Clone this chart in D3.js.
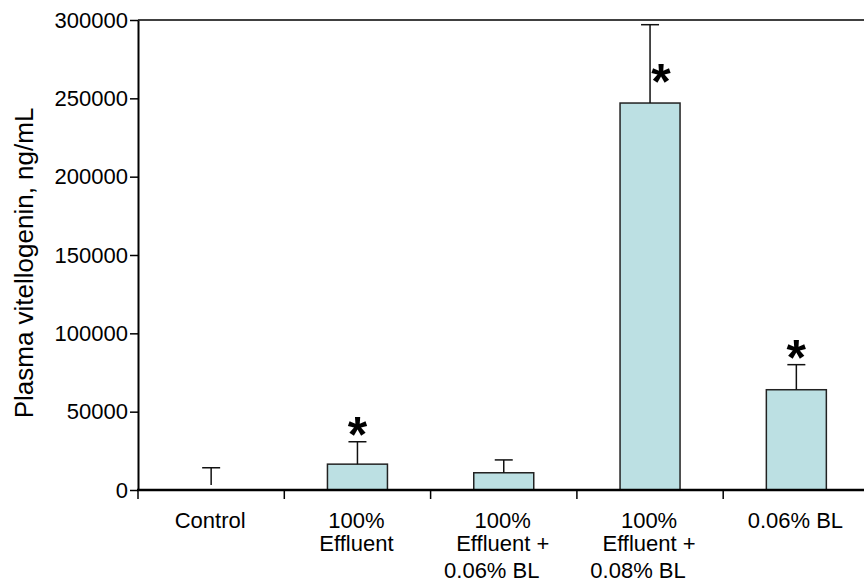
<!DOCTYPE html>
<html>
<head>
<meta charset="utf-8">
<script src="https://cdn.jsdelivr.net/npm/d3@7"></script>
<style>
  body { margin: 0; background: #fff; }
  svg { display: block; font-family: "Liberation Sans", Arial, sans-serif; }
</style>
</head>
<body>
<div id="chart"></div>
<script>
// Data
const categories = ["Control", "100% Effluent", "100% Effluent + 0.06% BL", "100% Effluent + 0.08% BL", "0.06% BL"];
const labelLines = [
  ["Control"],
  ["100%", "Effluent"],
  ["100%", "Effluent +", "0.06% BL"],
  ["100%", "Effluent +", "0.08% BL"],
  ["0.06% BL"]
];
const means = [0, 16500, 11000, 247000, 64000];
const sems = [14200, 14300, 8200, 50000, 16000];
const significant = [false, true, false, true, true];
const yTicks = [0, 50000, 100000, 150000, 200000, 250000, 300000];

// Layout
const W = 864, H = 588;
var margin = {top: 20, left: 138, bottom: 490};
const bandW = 146.3;

let svg = d3.select("#chart")
  .append("svg")
    .attr("width", W)
    .attr("height", H);

let x = d3.scaleBand()
  .domain(categories)
  .range([margin.left, margin.left + bandW * categories.length])
  .padding(0);

let y = d3.scaleLinear()
  .domain([0, 300000])
  .range([margin.bottom, margin.top]);

const barW = 60;
const data = categories.map((c, i) => ({
  cat: c, mean: means[i], sem: sems[i], sig: significant[i], lines: labelLines[i]
}));

// top frame line
svg.append("line")
  .attr("x1", margin.left).attr("x2", W)
  .attr("y1", y(300000)).attr("y2", y(300000))
  .attr("stroke", "#000").attr("stroke-width", 1.5);

// bars
svg.selectAll("rect.bar")
  .data(data.filter(d => d.mean > 0))
  .enter()
  .append("rect")
    .attr("class", "bar")
    .attr("x", d => x(d.cat) + x.bandwidth() / 2 - barW / 2)
    .attr("y", d => y(d.mean))
    .attr("width", barW)
    .attr("height", d => y(0) - y(d.mean))
    .attr("fill", "#bce0e3")
    .attr("stroke", "#222")
    .attr("stroke-width", 1.5);

// error bars (upper only)
let err = svg.selectAll("g.err")
  .data(data)
  .enter()
  .append("g")
    .attr("class", "err")
    .attr("transform", d => "translate(" + (x(d.cat) + x.bandwidth() / 2) + ",0)");

err.append("line")
  .attr("x1", 0).attr("x2", 0)
  .attr("y1", d => Math.min(y(d.mean), y(0) - 5))
  .attr("y2", d => y(d.mean + d.sem))
  .attr("stroke", "#111").attr("stroke-width", 1.5);

err.append("line")
  .attr("x1", -9).attr("x2", 9)
  .attr("y1", d => y(d.mean + d.sem))
  .attr("y2", d => y(d.mean + d.sem))
  .attr("stroke", "#111").attr("stroke-width", 1.5);

// significance asterisks (beside the bar when there is no room above)
const tooHigh = d => y(d.mean + d.sem) - 40 < margin.top;
err.filter(d => d.sig)
  .append("text")
    .attr("text-anchor", "middle")
    .attr("font-size", "50px")
    .attr("font-weight", "bold")
    .attr("x", d => tooHigh(d) ? 11 : 0)
    .attr("y", d => tooHigh(d) ? y(d.mean + d.sem) + 74 : y(d.mean + d.sem) + 10)
    .text("*");

// Y axis
svg.append("g")
  .attr("class", "y axis")
  .attr("transform", "translate(" + margin.left + ",0)")
  .call(d3.axisLeft(y).tickValues(yTicks).tickFormat(d3.format("d")).tickSize(8).tickSizeOuter(0))
  .call(g => g.select(".domain").attr("stroke-width", 2))
  .call(g => g.selectAll(".tick line").attr("stroke-width", 1.5))
  .call(g => g.selectAll(".tick text")
      .attr("font-size", "22px")
      .attr("font-family", "Liberation Sans, Arial, sans-serif")
      .attr("fill", "#000")
      .attr("x", -10));

// X axis line
svg.append("line")
  .attr("x1", margin.left - 1).attr("x2", W)
  .attr("y1", y(0)).attr("y2", y(0))
  .attr("stroke", "#000").attr("stroke-width", 2.5);

// X boundary ticks
svg.selectAll("line.xtick")
  .data(categories)
  .enter()
  .append("line")
    .attr("class", "xtick")
    .attr("x1", d => x(d)).attr("x2", d => x(d))
    .attr("y1", y(0)).attr("y2", y(0) + 9)
    .attr("stroke", "#000").attr("stroke-width", 1.5);

// X labels
const lineY = [528, 551, 578];
let xl = svg.selectAll("text.xlab")
  .data(data)
  .enter()
  .append("text")
    .attr("class", "xlab")
    .attr("text-anchor", "middle")
    .attr("font-size", "22px")
    .attr("transform", d => "translate(" + (x(d.cat) + x.bandwidth() / 2 - 1) + ",0)");

xl.selectAll("tspan")
  .data(d => d.lines)
  .enter()
  .append("tspan")
    .attr("x", (d, i) => i === 2 ? -11 : 0)
    .attr("y", (d, i) => lineY[i])
    .text(d => d);

// Y axis title
svg.append("text")
  .attr("text-anchor", "middle")
  .attr("transform", "translate(33,263)rotate(-90)")
  .attr("font-size", "26px")
  .text("Plasma vitellogenin, ng/mL");
</script>
</body>
</html>
